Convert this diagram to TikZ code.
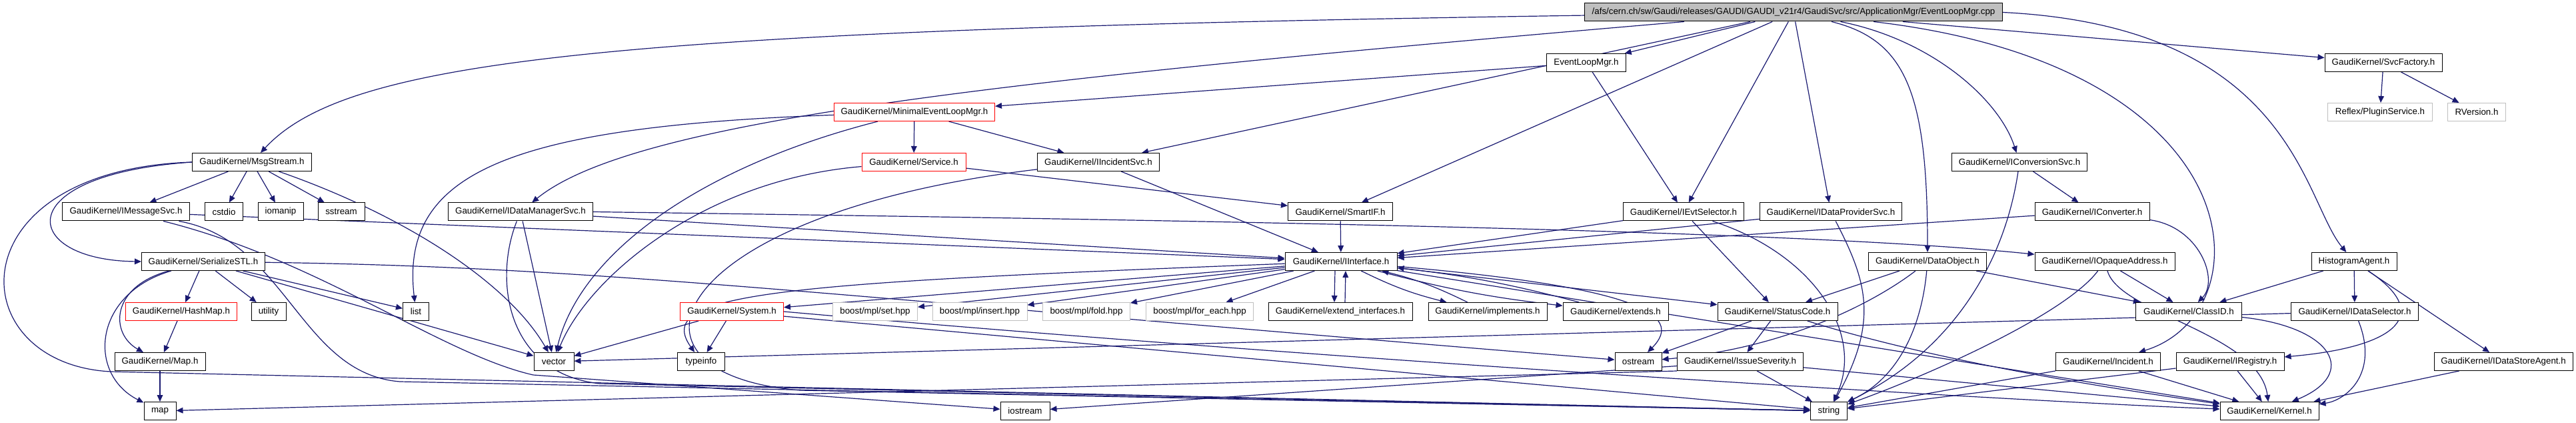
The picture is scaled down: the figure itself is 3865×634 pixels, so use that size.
\documentclass[tikz,border=0pt]{standalone}
\usepackage{fontspec}
\setmainfont{Liberation Sans}
\usepackage{xcolor}
\usepackage{tikz}
\usetikzlibrary{arrows.meta,backgrounds}
\definecolor{edgeblue}{HTML}{191970}
\definecolor{truncred}{HTML}{FF0000}
\definecolor{extgray}{HTML}{BFBFBF}
\newlength\pxu
\setlength\pxu{0.75pt}
\tikzset{
  >={Triangle[length=7.5pt,width=6.5pt]},
  filenode/.style={draw=black,line width=0.75pt,fill=white,
                   font=\fontsize{10}{12}\selectfont,text=black,
                   minimum height=27\pxu,inner xsep=1pt,inner ysep=0pt},
  incnode/.style={filenode},
  truncnode/.style={filenode,draw=truncred},
  extnode/.style={filenode,draw=extgray},
  rootnode/.style={filenode,fill=extgray},
  bw/.style={minimum width=#1\pxu},
  depedge/.style={->,line width=0.9pt,draw=edgeblue},
}

\begin{document}
\begin{tikzpicture}[x=\pxu,y=-\pxu]
  \useasboundingbox (0,0) rectangle (3865,634);
  % the source file
  \node[rootnode,bw=627] (root) at (2691,18.5)
    {/afs/cern.ch/sw/Gaudi/releases/GAUDI/GAUDI\_v21r4/GaudiSvc/src/ApplicationMgr/EventLoopMgr.cpp};
  % row 1
  \node[incnode,bw=119] (elm) at (2380,94) {EventLoopMgr.h};
  \node[incnode,bw=176] (svcfac) at (3576,94) {GaudiKernel/SvcFactory.h};
  % row 2
  \node[truncnode,bw=241] (minelm) at (1372,168) {GaudiKernel/MinimalEventLoopMgr.h};
  \node[extnode,bw=157] (plugin) at (3571,168) {Reflex/PluginService.h};
  \node[extnode,bw=87] (rversion) at (3716,168) {RVersion.h};
  % row 3
  \node[incnode,bw=179] (msgstream) at (378,243) {GaudiKernel/MsgStream.h};
  \node[truncnode,bw=156] (service) at (1371,243) {GaudiKernel/Service.h};
  \node[incnode,bw=183] (iincsvc) at (1648,243) {GaudiKernel/IIncidentSvc.h};
  \node[incnode,bw=203] (iconvsvc) at (3030,243) {GaudiKernel/IConversionSvc.h};
  % row 4
  \node[incnode,bw=191] (imsgsvc) at (189,317.5) {GaudiKernel/IMessageSvc.h};
  \node[incnode,bw=57] (cstdio) at (336,317.5) {cstdio};
  \node[incnode,bw=68] (iomanip) at (421,317.5) {iomanip};
  \node[incnode,bw=70] (sstream) at (512,317.5) {sstream};
  \node[incnode,bw=217] (idmsvc) at (781,317.5) {GaudiKernel/IDataManagerSvc.h};
  \node[incnode,bw=157] (smartif) at (2011,317.5) {GaudiKernel/SmartIF.h};
  \node[incnode,bw=181] (ievtsel) at (2526,317.5) {GaudiKernel/IEvtSelector.h};
  \node[incnode,bw=213] (idpsvc) at (2747,317.5) {GaudiKernel/IDataProviderSvc.h};
  \node[incnode,bw=172] (iconv) at (3139,317.5) {GaudiKernel/IConverter.h};
  % row 5
  \node[incnode,bw=185] (serstl) at (305,392) {GaudiKernel/SerializeSTL.h};
  \node[incnode,bw=168] (iiface) at (2012,392) {GaudiKernel/IInterface.h};
  \node[incnode,bw=177] (dataobj) at (2892,392) {GaudiKernel/DataObject.h};
  \node[incnode,bw=210] (iopaque) at (3158,392) {GaudiKernel/IOpaqueAddress.h};
  \node[incnode,bw=128] (histagent) at (3532,392) {HistogramAgent.h};
  % row 6
  \node[truncnode,bw=167] (hashmap) at (272,467) {GaudiKernel/HashMap.h};
  \node[incnode,bw=52] (utility) at (403,467) {utility};
  \node[incnode,bw=39] (list) at (624,467) {list};
  \node[truncnode,bw=155] (system) at (1098,467) {GaudiKernel/System.h};
  \node[extnode,bw=127] (bset) at (1313,467) {boost/mpl/set.hpp};
  \node[extnode,bw=142] (binsert) at (1470,467) {boost/mpl/insert.hpp};
  \node[extnode,bw=131] (bfold) at (1630,467) {boost/mpl/fold.hpp};
  \node[extnode,bw=161] (bforeach) at (1800,467) {boost/mpl/for\_each.hpp};
  \node[incnode,bw=216] (extif) at (2011,467) {GaudiKernel/extend\_interfaces.h};
  \node[incnode,bw=178] (impl) at (2232,467) {GaudiKernel/implements.h};
  \node[incnode,bw=158] (extends) at (2424,467) {GaudiKernel/extends.h};
  \node[incnode,bw=180] (statuscode) at (2667,467) {GaudiKernel/StatusCode.h};
  \node[incnode,bw=159] (classid) at (3284,467) {GaudiKernel/ClassID.h};
  \node[incnode,bw=191] (idatasel) at (3533,467) {GaudiKernel/IDataSelector.h};
  % row 7
  \node[incnode,bw=136] (mapH) at (240,542) {GaudiKernel/Map.h};
  \node[incnode,bw=60] (vector) at (831,542) {vector};
  \node[incnode,bw=71] (typeinfo) at (1052,542) {typeinfo};
  \node[incnode,bw=70] (ostream) at (2458,542) {ostream};
  \node[incnode,bw=189] (issuesev) at (2611,542) {GaudiKernel/IssueSeverity.h};
  \node[incnode,bw=157] (incident) at (3163,542) {GaudiKernel/Incident.h};
  \node[incnode,bw=162] (iregistry) at (3346,542) {GaudiKernel/IRegistry.h};
  \node[incnode,bw=208] (idsagent) at (3756,542) {GaudiKernel/IDataStoreAgent.h};
  % row 8
  \node[incnode,bw=48] (map) at (240,616) {map};
  \node[incnode,bw=74] (iostream) at (1538,616) {iostream};
  \node[incnode,bw=55] (string) at (2744,616) {string};
  \node[incnode,bw=148] (kernel) at (3405,616) {GaudiKernel/Kernel.h};

  \begin{scope}[on background layer]
  % includes of the .cpp file
  \draw[depedge] (root) .. controls (900,45) and (520,90) .. (msgstream);
  \draw[depedge] (root) .. controls (1500,120) and (950,180) .. (idmsvc);
  \draw[depedge] (root) -- (elm);
  \draw[depedge] (root) -- (iincsvc);
  \draw[depedge] (root) -- (smartif);
  \draw[depedge] (root) -- (ievtsel);
  \draw[depedge] (root) -- (idpsvc);
  \draw[depedge] (root) .. controls (2860,60) and (2892,140) .. (dataobj);
  \draw[depedge] (root) .. controls (2900,60) and (3000,150) .. (iconvsvc);
  \draw[depedge] (root) .. controls (3390,100) and (3400,470) .. (incident);
  \draw[depedge] (root.east) .. controls (3440,40) and (3455,300) .. (histagent);
  \draw[depedge] (root) -- (svcfac);
  % upper headers
  \draw[depedge] (elm) -- (minelm);
  \draw[depedge] (elm) -- (ievtsel);
  \draw[depedge] (svcfac) -- (plugin);
  \draw[depedge] (svcfac) -- (rversion);
  \draw[depedge] (minelm) -- (service);
  \draw[depedge] (minelm) -- (iincsvc);
  \draw[depedge] (minelm) .. controls (1050,250) and (870,380) .. (vector);
  \draw[depedge] (minelm) .. controls (760,190) and (600,260) .. (list);
  \draw[depedge] (service) -- (smartif);
  \draw[depedge] (service) .. controls (1050,270) and (880,420) .. (vector);
  \draw[depedge] (iincsvc) -- (iiface);
  \draw[depedge] (iincsvc) .. controls (1000,320) and (900,560) .. (1200,585) -- (string);
  % MsgStream and friends
  \draw[depedge] (msgstream) -- (imsgsvc);
  \draw[depedge] (msgstream) -- (cstdio);
  \draw[depedge] (msgstream) -- (iomanip);
  \draw[depedge] (msgstream) -- (sstream);
  \draw[depedge] (msgstream.west) .. controls (10,262) and (30,390) .. (serstl.west);
  \draw[depedge] (msgstream.west) .. controls (-70,255) and (-60,545) .. (166,557) -- (string);
  \draw[depedge] (msgstream) .. controls (600,320) and (760,420) .. (vector);
  \draw[depedge] (imsgsvc) -- (iiface);
  \draw[depedge] (imsgsvc) .. controls (430,360) and (450,560) .. (600,572) -- (string);
  \draw[depedge] (imsgsvc) .. controls (480,390) and (660,530) .. (800,562) -- (iostream);
  \draw[depedge] (serstl) -- (hashmap);
  \draw[depedge] (serstl) -- (utility);
  \draw[depedge] (serstl) -- (list);
  \draw[depedge] (serstl) .. controls (165,430) and (165,500) .. (mapH);
  \draw[depedge] (serstl) .. controls (140,440) and (130,560) .. (map);
  \draw[depedge] (serstl) -- (vector);
  \draw[depedge] (serstl) .. controls (900,400) and (1200,440) .. (ostream);
  \draw[depedge] (hashmap) -- (mapH);
  \draw[depedge] (mapH) -- (map);
  % service interfaces
  \draw[depedge] (idmsvc) -- (vector);
  \draw[depedge] (idmsvc) .. controls (740,420) and (760,560) .. (900,575) -- (string);
  \draw[depedge] (idmsvc) -- (iiface);
  \draw[depedge] (idmsvc.east) .. controls (1800,330) and (2700,345) .. (iopaque);
  \draw[depedge] (smartif) -- (iiface);
  \draw[depedge] (ievtsel) -- (iiface);
  \draw[depedge] (ievtsel) -- (statuscode);
  \draw[depedge] (ievtsel) .. controls (2720,380) and (2800,500) .. (string);
  \draw[depedge] (idpsvc) -- (iiface);
  \draw[depedge] (idpsvc) .. controls (2800,420) and (2820,480) .. (string);
  \draw[depedge] (iconvsvc) -- (iconv);
  \draw[depedge] (iconvsvc) .. controls (3010,380) and (2940,520) .. (string);
  \draw[depedge] (iconv) -- (iiface);
  \draw[depedge] (iconv) .. controls (3300,340) and (3330,420) .. (classid);
  \draw[depedge] (dataobj) -- (statuscode);
  \draw[depedge] (dataobj) -- (classid);
  \draw[depedge] (dataobj) .. controls (2885,470) and (2860,560) .. (string);
  \draw[depedge] (dataobj) .. controls (2830,440) and (2700,520) .. (ostream);
  \draw[depedge] (iopaque) -- (classid);
  \draw[depedge] (iopaque) .. controls (3100,470) and (2900,560) .. (string);
  \draw[depedge] (iopaque) .. controls (3180,470) and (3390,500) .. (kernel);
  \draw[depedge] (histagent) -- (classid);
  \draw[depedge] (histagent) -- (idatasel);
  \draw[depedge] (histagent) -- (idsagent);
  \draw[depedge] (histagent) .. controls (3650,470) and (3600,520) .. (iregistry);
  \draw[depedge] (idatasel) -- (vector);
  \draw[depedge] (idatasel) .. controls (3570,560) and (3520,600) .. (kernel);
  \draw[depedge] (idsagent) -- (kernel);
  \draw[depedge] (iregistry) -- (kernel);
  \draw[depedge] (iregistry) -- (string);
  \draw[depedge] (incident) -- (kernel);
  \draw[depedge] (incident) -- (string);
  \draw[depedge] (classid) .. controls (3500,490) and (3540,560) .. (kernel);
  % IInterface and the low-level headers
  \draw[depedge] (iiface) -- (system);
  \draw[depedge] (iiface) -- (bset);
  \draw[depedge] (iiface) -- (binsert);
  \draw[depedge] (iiface) -- (bfold);
  \draw[depedge] (iiface) -- (bforeach);
  \draw[depedge] ([xshift=-9\pxu]iiface.south) -- ([xshift=-9\pxu]extif.north);
  \draw[depedge] ([xshift=7\pxu]extif.north) -- ([xshift=7\pxu]iiface.south);
  \draw[depedge] (iiface) to[bend right=6] (impl);
  \draw[depedge] (impl) to[bend right=6] (iiface);
  \draw[depedge] (iiface) to[bend right=4] (extends);
  \draw[depedge] (extends) to[bend right=4] (iiface);
  \draw[depedge] (iiface) -- (statuscode);
  \draw[depedge] (iiface) .. controls (2450,430) and (2530,470) .. (ostream);
  \draw[depedge] (iiface) .. controls (1150,425) and (980,440) .. (typeinfo);
  \draw[depedge] (iiface) -- (kernel);
  \draw[depedge] (system) -- (vector);
  \draw[depedge] (system) -- (typeinfo);
  \draw[depedge] (system) -- (string);
  \draw[depedge] (system.east) .. controls (2000,540) and (3000,600) .. (kernel);
  \draw[depedge] (statuscode) -- (issuesev);
  \draw[depedge] (statuscode) -- (ostream);
  \draw[depedge] (statuscode) .. controls (2900,540) and (3150,580) .. (kernel);
  \draw[depedge] (issuesev) -- (string);
  \draw[depedge] (issuesev) -- (iostream);
  \draw[depedge] (issuesev.south west) -- (map);
  \draw[depedge] (issuesev) -- (kernel);
  \end{scope}
\end{tikzpicture}
\end{document}
